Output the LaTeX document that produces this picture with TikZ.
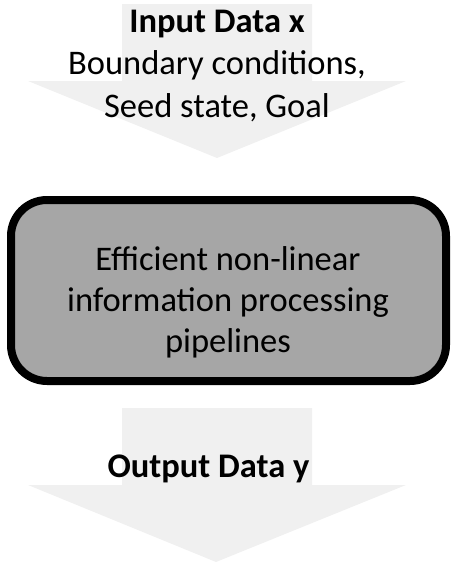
\documentclass[tikz,border=0pt]{standalone}
\usepackage{fontspec}
\setmainfont{Carlito}
\definecolor{arrowgray}{HTML}{F0F0F0}
\definecolor{boxgray}{HTML}{A6A6A6}
\begin{document}
\begin{tikzpicture}[x=1pt,y=-1pt,
  blockarrow/.style={fill=arrowgray,draw=none},
  txt/.style={inner sep=0pt,anchor=base},
  procbox/.style={draw=black,line width=8pt,rounded corners=36pt,fill=boxgray,
    minimum width=435pt,minimum height=181pt,inner sep=0pt}]
\path[use as bounding box] (0,0) rectangle (452,563);
% block arrows
\fill[blockarrow] (122,4) -- (312,4) -- (312,81) -- (406,81) -- (217,158) -- (28,81) -- (122,81) -- cycle;
\fill[blockarrow] (122,408) -- (312,408) -- (312,485) -- (406,485) -- (216,562) -- (28,485) -- (122,485) -- cycle;
% input text
\node[txt] (input) at (217,32) {\fontsize{34.5}{42.5}\selectfont\setlength{\tabcolsep}{0pt}%
  \begin{tabular}[t]{c}\textbf{Input Data x}\\Boundary conditions,\\Seed state, Goal\end{tabular}};
% process box
\node[procbox] (proc) at (228.5,290.5) {};
\node[txt] (proctext) at (228,270) {\fontsize{34.5}{41}\selectfont\setlength{\tabcolsep}{0pt}%
  \begin{tabular}[t]{c}Efficient non-linear\\information processing\\pipelines\end{tabular}};
% output text
\node[txt] (output) at (208.5,477) {\fontsize{34.5}{41}\selectfont\textbf{Output Data y}};
\end{tikzpicture}
\end{document}
